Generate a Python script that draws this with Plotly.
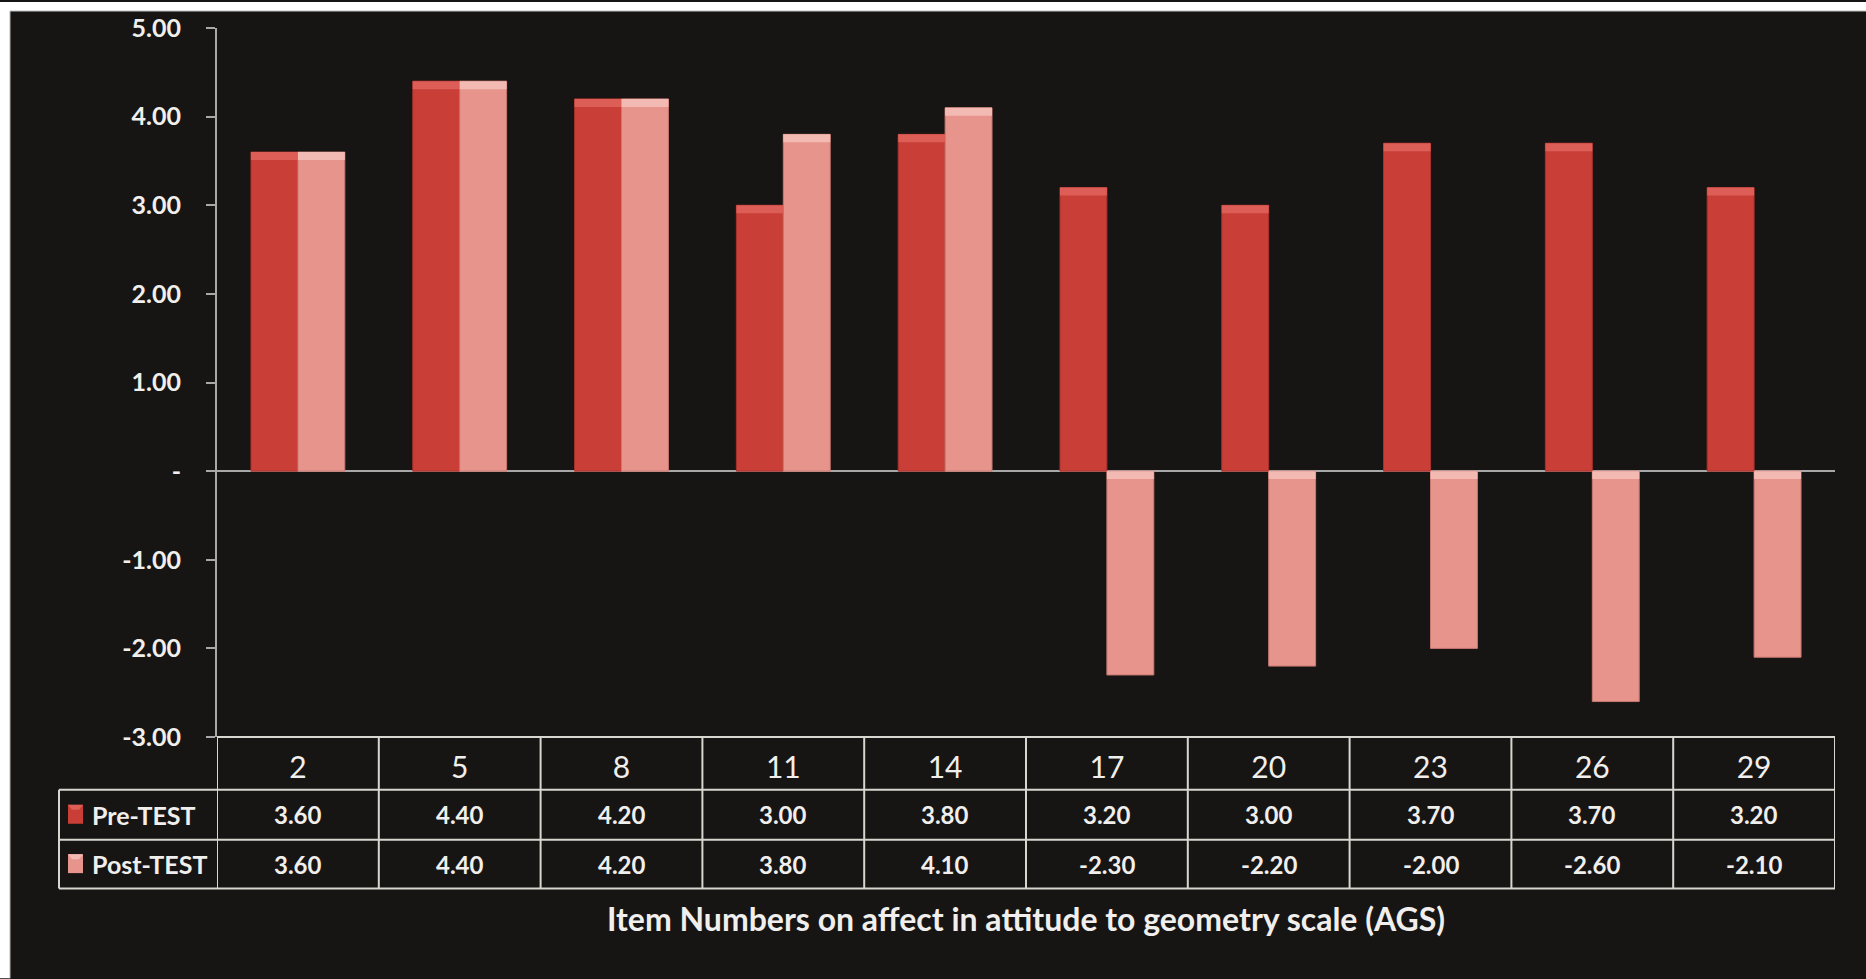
import plotly.graph_objects as go

# Item numbers on the AGS scale and the mean scores for each test
items = ["2", "5", "8", "11", "14", "17", "20", "23", "26", "29"]
pre_test = [3.60, 4.40, 4.20, 3.00, 3.80, 3.20, 3.00, 3.70, 3.70, 3.20]
post_test = [3.60, 4.40, 4.20, 3.80, 4.10, -2.30, -2.20, -2.00, -2.60, -2.10]
series_names = ["Pre-TEST", "Post-TEST"]
y_ticks = [5, 4, 3, 2, 1, 0, -1, -2, -3]
y_tick_text = ["5.00", "4.00", "3.00", "2.00", "1.00", "-", "-1.00", "-2.00", "-3.00"]
axis_title = "Item Numbers on affect in attitude to geometry scale (AGS)"

# Canvas and plot-area geometry in pixels
W, H = 1866, 979
L, R, T, B = 217, 31, 26, 242
PW = W - L - R
PH = H - T - B


def px(x):
    """pixel x -> paper x"""
    return (x - L) / PW


def py(y):
    """pixel y (from top) -> paper y"""
    return (H - B - y) / PH


BG = "#171513"
GRID = "#d9d6d0"
AXIS = "#a8a8a8"
TEXT = "#f0efed"
FONT = "Lato"

PRE_MAIN, PRE_EDGE, PRE_HI = "#c93f38", "#a8322c", "#dc5e56"
POST_MAIN, POST_EDGE, POST_HI = "#e6948c", "#c77870", "#f3bab3"
BEVEL = 0.09

fig = go.Figure()

fig.add_trace(go.Bar(
    x=items, y=pre_test, name=series_names[0], offsetgroup="pre",
    marker=dict(color=PRE_MAIN, line=dict(color=PRE_EDGE, width=1)),
    showlegend=False,
))
fig.add_trace(go.Bar(
    x=items, y=post_test, name=series_names[1], offsetgroup="post",
    marker=dict(color=POST_MAIN, line=dict(color=POST_EDGE, width=1)),
    showlegend=False,
))
# bevel highlight along the upper edge of each bar
fig.add_trace(go.Bar(
    x=items, y=[BEVEL] * len(pre_test),
    base=[max(v, 0) - BEVEL for v in pre_test], offsetgroup="pre",
    marker=dict(color=PRE_HI, line=dict(width=0)),
    showlegend=False, hoverinfo="skip",
))
fig.add_trace(go.Bar(
    x=items, y=[BEVEL] * len(post_test),
    base=[max(v, 0) - BEVEL for v in post_test], offsetgroup="post",
    marker=dict(color=POST_HI, line=dict(width=0)),
    showlegend=False, hoverinfo="skip",
))

shapes = []
annotations = []

# white frame strips along the top and left edges
shapes.append(dict(type="rect", xref="paper", yref="paper", layer="below",
                   x0=px(0), x1=px(W), y0=py(0), y1=py(9),
                   fillcolor="white", line=dict(width=0)))
shapes.append(dict(type="rect", xref="paper", yref="paper", layer="below",
                   x0=px(0), x1=px(10), y0=py(0), y1=py(H),
                   fillcolor="white", line=dict(width=0)))
shapes.append(dict(type="line", xref="paper", yref="paper",
                   x0=px(10), x1=px(W), y0=py(9), y1=py(9),
                   line=dict(color="#b5b5b5", width=1)))
shapes.append(dict(type="line", xref="paper", yref="paper",
                   x0=px(10), x1=px(10), y0=py(9), y1=py(H),
                   line=dict(color="#b5b5b5", width=1)))

# data table grid
row_top, row_pre, row_post, row_bot = 737, 790, 840, 889
legend_left = 59
shapes.append(dict(type="line", xref="paper", yref="paper",
                   x0=0, x1=1, y0=py(row_top), y1=py(row_top),
                   line=dict(color=GRID, width=2)))
for yy in (row_pre, row_post, row_bot):
    shapes.append(dict(type="line", xref="paper", yref="paper",
                       x0=px(legend_left), x1=1, y0=py(yy), y1=py(yy),
                       line=dict(color=GRID, width=2)))
for i in range(len(items) + 1):
    shapes.append(dict(type="line", xref="x", yref="paper",
                       x0=i - 0.5, x1=i - 0.5, y0=py(row_top), y1=py(row_bot),
                       line=dict(color=GRID, width=2)))
shapes.append(dict(type="line", xref="paper", yref="paper",
                   x0=px(legend_left), x1=px(legend_left),
                   y0=py(row_pre), y1=py(row_bot),
                   line=dict(color=GRID, width=2)))

# table rows: legend keys, series names and values
rows = [(row_pre, row_post, pre_test, PRE_MAIN, PRE_HI, series_names[0]),
        (row_post, row_bot, post_test, POST_MAIN, POST_HI, series_names[1])]
for top, bot, vals, col, hi, name in rows:
    mid = (top + bot) / 2
    shapes.append(dict(type="rect", xref="paper", yref="paper",
                       x0=px(68), x1=px(83), y0=py(mid - 10), y1=py(mid + 9),
                       fillcolor=col, line=dict(width=0)))
    shapes.append(dict(type="path", xref="paper", yref="paper",
                       path=f"M {px(68)},{py(mid - 10)} L {px(83)},{py(mid - 10)} "
                            f"L {px(79)},{py(mid - 5)} L {px(72)},{py(mid - 5)} Z",
                       fillcolor=hi, line=dict(width=0)))
    annotations.append(dict(xref="paper", yref="paper", x=px(90), y=py(mid),
                            xanchor="left", yanchor="middle", showarrow=False,
                            text=name,
                            font=dict(family=FONT, size=25, color=TEXT, weight="bold")))
    for i, v in enumerate(vals):
        annotations.append(dict(xref="x", yref="paper", x=i, y=py(mid),
                                xanchor="center", yanchor="middle", showarrow=False,
                                text=f"{v:.2f}",
                                font=dict(family=FONT, size=24, color=TEXT, weight="bold")))

annotations.append(dict(xref="paper", yref="paper", x=0.5, y=py(919),
                        xanchor="center", yanchor="middle", showarrow=False,
                        text=axis_title,
                        font=dict(family=FONT, size=32, color=TEXT, weight="bold")))

fig.update_layout(
    width=W, height=H,
    margin=dict(l=L, r=R, t=T, b=B, pad=0),
    paper_bgcolor=BG, plot_bgcolor=BG,
    barmode="group", bargap=0.42, bargroupgap=0,
    shapes=shapes, annotations=annotations,
    xaxis=dict(
        type="category", range=[-0.5, len(items) - 0.5],
        showline=False, showgrid=False, zeroline=False, ticks="",
        tickfont=dict(family=FONT, size=30, color=TEXT),
        ticklabelstandoff=10,
    ),
    yaxis=dict(
        range=[-3, 5], tickvals=y_ticks, ticktext=y_tick_text,
        showgrid=False, showline=True, linecolor=AXIS, linewidth=2,
        ticks="outside", ticklen=9, tickwidth=2, tickcolor=AXIS,
        zeroline=True, zerolinecolor=AXIS, zerolinewidth=2,
        tickfont=dict(family=FONT, size=25, color=TEXT, weight="bold"),
        ticklabelstandoff=20,
    ),
)

fig.write_html("out.html")
